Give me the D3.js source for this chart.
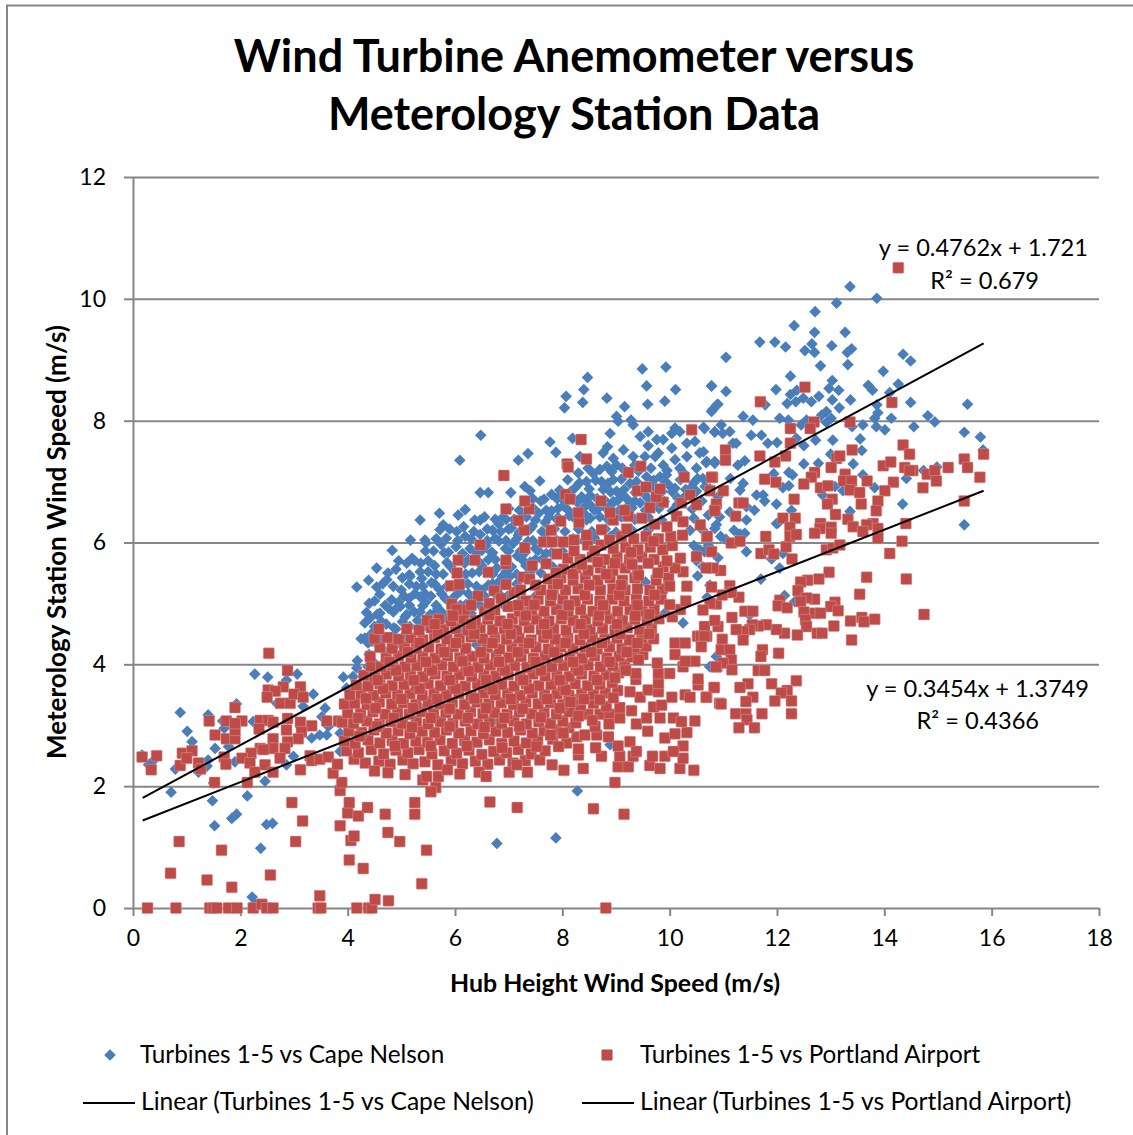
<!DOCTYPE html>
<html>
<head>
<meta charset="utf-8">
<title>Wind Turbine Anemometer versus Meterology Station Data</title>
<script src="https://cdnjs.cloudflare.com/ajax/libs/d3/7.8.5/d3.min.js"></script>
<style>
  html, body { margin: 0; padding: 0; background: #fff; }
  svg { display: block; }
  text { font-family: Lato, "Open Sans", sans-serif; fill: #000; }
</style>
</head>
<body>
<div id="chart"></div>
<script>
// Values: [hub height speed, station speed]

const capeLeft = [[.17,2.51],[.39,2.43],[.29,2.35],[.79,2.28],[.88,3.21],[1.01,2.9],[1.1,2.73],[1.4,3.17],[1.22,2.23],[1.4,2.43],[1.38,2.33],[1.53,2.62],[1.67,3.07],[1.7,2.95],[1.78,2.65],[1.9,2.4],[1.93,3.35],[2.24,3.06],[2.27,3.84],[2.51,3.79],[2.68,3.36],[2.86,3.74],[3.06,3.84],[3.17,3.31],[3.36,3.51],[3.52,3.14],[3.58,3.28],[3.64,2.98],[3.33,2.79],[3.48,2.84],[3.61,2.84],[3.86,2.57],[3.86,2.87],[2.86,2.35],[2.99,2.49],[2.46,2.08],[1.5,2.05],[.71,1.9],[2.13,1.84],[1.48,1.76],[1.93,1.54],[1.84,1.47],[1.52,1.35],[2.49,1.37],[2.6,1.39],[2.38,.98],[2.22,.18],[2.27,.08],[8.28,1.92],[6.78,1.06],[7.88,1.15],[3.92,3.79],[4.17,3.94],[4.1,3.8],[3.98,3.61],[4.23,3.63],[4.38,3.96],[4.04,3.53],[4.18,4.06],[4.32,4.43],[4.38,4.35],[4.57,4.44],[4.66,4.24],[4.32,4.68],[4.42,4.76],[4.63,4.7],[4.76,4.92],[4.91,4.92],[5.07,4.78],[5,5.22],[5.35,5.11],[4.17,5.27],[4.39,5.38],[4.54,5.27],[4.54,5.58],[4.73,5.39],[5.16,5.44],[5.38,5.41],[4.83,5.87],[5.25,5.7],[5.17,6.04],[5.35,6.37],[5.44,6.04],[5.46,5.99],[5.71,6.48],[5.78,6.29],[5.72,6.21],[5.84,6.07]];

const capeCore = [[6.09,7.35],[6.48,7.76],[6.47,6.82],[6.62,6.82],[7.04,6.82],[7.18,7.35],[7.36,7.46],[7.3,6.92],[7.4,6.85],[7.58,7.01],[7.66,6.71],[7.77,7.65],[7.88,7.48],[7.8,6.79],[8.04,8.21],[8.07,8.4],[8.19,7.71],[8.24,6.9],[8.3,7.14],[8.33,7.41],[8.36,6.75],[8.38,8.3],[8.4,8.51],[8.47,8.71],[8.45,7],[8.48,7.22],[8.52,6.77],[8.55,6.59],[8.58,7.13],[8.73,7],[8.76,7.47],[8.76,6.87],[8.83,8.37],[8.83,7.25],[8.84,7.57],[8.89,7.79],[8.95,7.38],[8.95,7.03],[9.01,8.07],[9.01,7.27],[9.01,6.84],[9.04,7.99],[9.14,7.52],[9.16,8.23],[9.26,6.97],[9.28,8.01],[9.32,7.93],[9.32,7.41],[9.35,7.27],[9.45,7.74],[9.45,6.65],[9.49,8.85],[9.54,7.41],[9.57,8.57],[9.57,7.08],[9.59,8.27],[9.6,7.82],[9.6,7.59],[9.73,7.41],[9.76,7.69],[9.79,7.47],[9.82,7.08],[9.88,7.69],[9.88,7.27],[9.91,8.32],[9.93,8.88],[9.94,7.11],[10.04,7.79],[10.04,7.55],[10.1,7.88],[10.1,7.36],[10.1,6.89],[10.11,8.51],[10.19,7.82],[10.19,7.22],[10.32,7.63],[10.32,7.41],[10.47,7.66],[10.56,7.47],[10.63,7.89],[10.69,7.33],[10.78,8.57],[10.8,8.18],[10.84,7.81],[10.84,7.3],[10.88,8.26],
[6.06,6.45],[6.19,6.54],[6.37,6.37],[6.47,6.37],[6.16,6.26],[6.03,6.18],[6.19,6.1],[6.47,6.13],[6.7,6.2],
[6.82,6.3],[6.95,6.38],[7.05,6.24],[7.18,6.12],[7.33,6.42],[7.44,6.27],[7.56,6.48],[7.68,6.33],[7.8,6.52],[7.92,6.41],[8.02,6.6],[8.13,6.44],[8.28,6.66],[8.4,6.48],[8.52,6.4],[8.66,6.55],[8.78,6.7],[8.91,6.62],[9.03,6.69],[9.12,6.78],[9.25,6.62],[9.36,6.82],[9.52,6.8],[9.64,6.92],[9.74,6.68],[9.86,6.84],[9.98,6.95],[10.14,6.62],[10.28,6.75],[10.4,6.9],[10.52,7.05],[10.66,6.92],
[5.6,5.86],[5.74,5.97],[5.88,5.84],[6.02,5.93],[6.14,5.82],[6.28,5.9],[6.4,5.83],[6.58,5.95],[6.68,5.84],[6.82,6.02],[6.94,5.9],[7.08,5.98],[7.22,5.86],[7.36,6.02],[7.5,5.9],[7.7,5.82],[8.58,6.1],[8.9,6.1],[9.3,6.2],[9.6,6.2],[10.45,6.4],[10.62,6.2],[10.72,6.45],[10.9,6.75],
[5.2,5.74],[5.36,5.66],[5.5,5.52],[5.62,5.62],[5.78,5.48],[5.92,5.6],[6.18,5.66],[6.32,5.5],[6.5,5.62],[6.62,5.72],[6.78,5.58],[6.88,5.44],[7.05,5.6],[7.16,5.78],[7.32,5.62],[7.5,5.72],[7.6,5.5],[7.82,5.6],
[4.9,5.56],[5.02,5.42],[5.28,5.28],[5.44,5.16],[5.56,5.34],[5.7,5.24],[5.82,5.08],[6.1,5.2],[6.24,5.32],[6.34,5.06],[6.5,5.22],[6.62,5.3],[6.8,5.34],[6.86,5.12],[7.02,5.44],[7.2,5.02],[7.5,5.12],
[4.82,5.06],[4.98,4.95],[5.14,5.08],[5.24,4.86],[5.4,4.96],[5.54,4.82],[5.68,4.92],[5.82,4.76],[5.96,4.7],[6.2,4.98],[6.3,4.84],[6.5,4.94],[6.68,4.88],[6.84,4.72],[6.92,4.96],
[4.5,5.04],[4.6,4.84],[4.72,4.66],[4.86,4.6],[5.02,4.7],[5.16,4.62],[5.3,4.72],[5.45,4.64],[4.44,4.5],[4.58,4.3],[4.76,4.42],[4.92,4.34],[5.05,4.44],[4.4,4.16],[4.5,4.02],[4.64,3.94],[4.72,4.12],
[10.62,5.6],[10.75,5.3],[10.52,5.45],[10.9,5.75],[11.05,6.05],[10.45,5.95],[10.56,5.88],[10.65,5.85],[10.84,6.23],[9.9,5.9],[9.55,5.35],[9.92,4.85],[10.25,4.68],[10.75,3.96],[8.89,2.68],[6.8,3.06],[8.24,3.31],[5.32,3.32],[5.18,3.86],[6.4,4.32],[6.12,4.55],[7.32,4.86],[7.06,4.68],[8.55,5.3],[7.98,4.98]];

const capeDense = [[8.7,7.2],[8.92,7.16],[9.12,7.22],[9.42,7.17],[9.65,7.22],[9.95,7.18],[10.25,7.15],[10.5,7.22],
[8.1,7.03],[8.32,6.98],[8.62,7.02],[8.85,6.97],[9.1,7.04],[9.38,7],[9.7,7.02],[9.92,6.98],[10.2,7.03],[10.45,6.98],[10.62,7.05],
[7.95,6.86],[8.15,6.83],[8.5,6.88],[8.9,6.83],[9.15,6.87],[9.5,6.84],[9.75,6.88],[10.05,6.83],[10.3,6.87],[10.5,6.84],[10.75,6.88],
[7.45,6.72],[7.6,6.68],[7.9,6.72],[8.05,6.67],[8.2,6.73],[8.45,6.68],[8.65,6.72],[8.95,6.67],[9.2,6.72],[9.35,6.68],[9.6,6.72],[9.9,6.67],[10.15,6.73],
[7,6.56],[7.2,6.53],[7.45,6.57],[7.7,6.53],[7.92,6.56],[8.12,6.52],[8.4,6.57],[8.6,6.53],[8.82,6.56],[9.05,6.52],[9.3,6.57],[9.55,6.53],[9.8,6.56],[10.05,6.52],
[6.55,6.42],[6.75,6.38],[6.9,6.42],[7.1,6.38],[7.25,6.42],[7.5,6.37],[7.75,6.42],[7.9,6.38],[8.2,6.42],[8.45,6.37],[8.7,6.42],[8.85,6.38],[9.1,6.42],[9.35,6.38],[9.6,6.42],[9.85,6.37],
[5.9,6.22],[6.35,6.18],[6.6,6.22],[6.85,6.18],[7,6.22],[7.2,6.17],[7.4,6.22],[7.62,6.18],[7.85,6.22],[8.05,6.18],[8.3,6.22],[8.55,6.18],[8.8,6.22],[9,6.17],
[5.65,6.06],[6.05,6.03],[6.3,6.06],[6.6,6.03],[6.75,6.07],[6.95,6.03],[7.15,6.06],[7.45,6.03],[7.7,6.07],[7.9,6.03],[8.2,6.06],[8.4,6.03],[8.6,6.07],
[5.45,5.86],[5.8,5.83],[6.5,5.87],[6.7,5.83],[7,5.86],[7.3,5.83],[7.55,5.87],[7.8,5.83],[8,5.86],
[4.95,5.7],[5.1,5.66],[5.5,5.7],[5.85,5.67],[6.25,5.72],[6.45,5.68],[6.75,5.72],[6.95,5.68],[7.25,5.72],[7.4,5.68],[7.62,5.72],
[4.75,5.5],[5.15,5.47],[5.35,5.52],[5.65,5.48],[6,5.52],[6.2,5.48],[6.45,5.52],[6.7,5.48],[6.95,5.52],[7.15,5.48],[7.4,5.52],
[4.65,5.32],[4.85,5.28],[5.15,5.32],[5.4,5.28],[5.62,5.32],[5.85,5.28],[6.15,5.32],[6.4,5.28],[6.7,5.32],[6.85,5.28],[7.15,5.32],
[4.6,5.15],[5.05,5.12],[5.25,5.16],[5.55,5.12],[5.75,5.16],[6,5.12],[6.25,5.16],[6.55,5.12],[6.75,5.16],[6.98,5.12],
[4.4,5],[4.7,4.97],[4.95,5.02],[5.15,4.97],[5.45,5.02],[5.65,4.97],[5.9,5.02],[6.1,4.97],[6.4,5.02],[6.6,4.97],
[4.35,4.85],[4.55,4.82],[4.85,4.86],[5.1,4.82],[5.35,4.86],[5.6,4.82],[5.75,4.86],[6,4.82],
[4.5,4.62],[4.9,4.58],[5.4,4.62],[5.7,4.58],[4.25,4.42],[4.45,4.38],[4.65,4.42],[4.85,4.45],
[10.42,6.55],[10.6,6.68],[10.5,5.7],[10.38,6.2],[10.72,5.95],[10.95,6.1],[11.12,6.5],[11.2,6.2],[10.7,5.1]];

const capeRight = [[13.36,10.2],[13.86,10.01],[13.11,9.93],[12.71,9.79],[12.32,9.56],[12.7,9.45],[13.27,9.45],[11.68,9.29],[11.96,9.29],[12.16,9.21],[12.65,9.26],[13.02,9.23],[12.52,9.15],[12.7,9.12],[13.39,9.18],[13.31,9.12],[11.05,9.04],[14.35,9.09],[14.49,8.98],[12.81,8.9],[13.32,8.92],[13.98,8.81],[12.25,8.73],[13.03,8.66],[10.78,8.57],[11.05,8.48],[11.98,8.51],[12.37,8.5],[12.97,8.53],[13.15,8.5],[13.7,8.58],[13.78,8.5],[14.26,8.6],[14.1,8.46],[12.25,8.43],[12.78,8.4],[12.49,8.37],[13.03,8.34],[13.37,8.34],[12.19,8.28],[12.35,8.31],[12.64,8.31],[11.78,8.26],[10.9,8.27],[10.78,8.15],[13.86,8.26],[14.49,8.3],[15.55,8.27],[13.16,8.21],[12.92,8.15],[12.83,8.09],[13.88,8.13],[13.82,8.04],[11.37,8.07],[11.55,8.01],[12.05,8.04],[12.21,8.01],[13.01,8.04],[12.92,7.97],[14.81,8.08],[14.94,7.98],[14.13,8.04],[10.65,7.87],[10.96,7.93],[11.12,7.82],[10.84,7.82],[10.99,7.79],[12.45,7.93],[12.55,8.01],[13.6,7.93],[13.4,7.9],[13.85,7.9],[14.01,7.85],[14.55,7.9],[15.49,7.81],[15.79,7.73],[15.84,7.52],[11.52,7.76],[11.71,7.76],[11.83,7.63],[12,7.64],[12.36,7.71],[12.72,7.68],[12.5,7.59],[13.04,7.68],[13.55,7.7],[13.58,7.51],[11.18,7.63],[11.24,7.63],[10.63,7.49],[10.68,7.31],[10.84,7.33],[11.4,7.34],[11.27,7.27],[13,7.45],[12.5,7.29],[12.77,7.3],[13.42,7.29],[11.94,7.13],[12.22,7.15],[12.29,7.11],[13.6,7.11],[14.41,7.05],[14.98,7.24],[14.73,7.18],[11.13,7.05],[11.37,6.97],[11.31,6.86],[12.22,6.93],[12.11,6.9],[13.82,6.9],[13.08,6.92],[12.85,6.78],[13.23,6.85],[11.74,6.78],[11.62,6.78],[11.77,6.68],[11.99,6.63],[11.58,6.53],[11.43,6.59],[12.27,6.53],[13.36,6.51],[14.34,6.63],[10.93,6.42],[11.43,6.37],[11.99,6.31],[10.87,6.29],[15.49,6.29],[12.05,5.58],[11.9,5.73],[12.11,5.82],[11.43,5.85],[11.7,5.4],[12.14,5.13],[12.33,5.03],[11.49,4.81],[11.4,6.15],[11.31,6.14],[10.87,4.13],[10.75,3.96],[12.02,6.32]];

const portlandLow = [[.27,0],[.8,0],[1.43,0],[1.5,0],[1.56,0],[1.78,0],[1.94,0],[2.24,0],[2.4,.06],[2.49,0],[2.61,0],[3.45,0],[3.5,0],[4.17,0],[4.39,0],[4.45,0],[8.81,0],[4.51,.14],[4.76,.12],[3.48,.2],[5.38,.4],[1.84,.34],[1.38,.46],[.7,.57],[2.56,.54],[4.29,.65],[4.03,.79],[5.47,.95],[1.65,.95],[.86,1.09],[3.03,1.09],[4.97,1.09],[4.06,1.11],[4.12,1.18],[4.75,1.24],[3.86,1.35],[3.16,1.43],[4.7,1.54],[5.25,1.54],[4,1.56],[4.2,1.51],[4.37,1.65],[4.03,1.73],[2.96,1.73],[5.25,1.73],[3.86,1.93],[3.89,2.06],[2.13,2.06],[1.52,2.06],[3.73,2.21],[6.65,1.74],[7.16,1.65],[8.58,1.63],[9.15,1.54],[8.98,2.06],[5.64,1.98],[5.55,1.91],[5.4,2.1],[5.47,2.16]];

const portlandLeft = [[.17,2.48],[.44,2.5],[.34,2.27],[.88,2.34],[.92,2.54],[1.1,2.58],[1,2.46],[1.22,2.38],[1.26,2.28],[1.7,2.48],[1.73,2.36],[1.42,3.07],[1.74,3.07],[2.03,3.07],[1.9,3.29],[1.53,2.84],[1.74,2.78],[1.9,2.78],[1.9,2.92],[1.9,3.03],[2.53,4.18],[2.88,3.9],[3.12,3.63],[2.8,3.63],[2.52,3.58],[2.65,3.56],[2.5,3.46],[2.75,3.36],[2.93,3.36],[3,3.51],[3.17,3.46],[2.37,3.08],[2.52,3.08],[2.61,3.05],[2.35,2.94],[2.88,3.11],[2.86,2.92],[3.12,3.05],[3.33,2.99],[3.61,3.07],[3.83,3.07],[3.14,2.89],[3.08,2.78],[2.61,2.78],[2.88,2.73],[2.37,2.62],[2.61,2.62],[2.83,2.62],[2.2,2.54],[2.43,2.6],[2.03,2.46],[2.18,2.38],[2.46,2.35],[2.74,2.46],[2.27,2.23],[2.61,2.23],[3.12,2.27],[3.3,2.5],[3.33,2.42],[3.48,2.44],[3.64,2.48],[3.81,2.36]];

const portlandCore = [[4.12,2.44],[4.33,2.38],[4.58,2.41],[4.79,2.36],[5.03,2.43],[5.22,2.37],[5.44,2.4],[5.68,2.35],[5.93,2.42],[6.14,2.37],[6.38,2.41],[6.61,2.36],[6.83,2.43],[7.08,2.38],[7.31,2.42],
[5.07,2.19],[5.69,2.16],[5.86,2.27],[6.09,2.2],[6.45,2.23],[6.58,2.16],[7.01,2.23],[7.35,2.23],[7.81,2.35],[8.03,2.26],[8.39,2.29],[9.04,2.32],[9.23,2.32],[9.63,2.34],[9.82,2.29],[10.19,2.29],[10.45,2.26],[4.5,2.25],[4.75,2.22],
[3.98,2.58],[4.2,2.55],[4.44,2.6],[4.67,2.53],[4.9,2.59],[5.12,2.55],[5.33,2.6],[5.57,2.53],[5.8,2.58],[6.03,2.54],[6.26,2.59],[6.5,2.52],[6.72,2.57],[6.96,2.55],[7.18,2.6],[7.42,2.53],[7.58,2.43],[7.15,2.35],[7.68,2.58],[8.73,2.49],[8.3,2.51],[9.07,2.49],[9.32,2.49],[9.68,2.49],[9.91,2.49],[10.25,2.46],
[3.94,2.74],[4.14,2.7],[4.38,2.76],[4.6,2.71],[4.83,2.75],[5.04,2.7],[5.27,2.74],[5.49,2.72],[5.72,2.76],[5.95,2.7],[6.18,2.75],[6.41,2.72],[6.64,2.76],[6.87,2.7],[7.1,2.74],[7.33,2.71],[7.54,2.76],[7.82,2.77],[8.08,2.71],[7.93,2.65],[8.27,2.81],[8.42,2.84],[8.64,2.84],[8.3,2.61],[8.62,2.63],[8.86,2.81],[9.04,2.66],[9.26,2.73],[9.38,2.57],[9.91,2.79],[10.1,2.86],[10.25,2.66],[10.07,2.57],[10.32,2.88],
[4.02,2.9],[4.26,2.88],[4.49,2.92],[4.72,2.87],[4.94,2.91],[5.16,2.86],[5.39,2.9],[5.62,2.88],[5.84,2.92],[6.07,2.87],[6.3,2.91],[6.53,2.86],[6.76,2.9],[6.98,2.88],[7.22,2.92],[7.44,2.87],[7.66,2.91],[7.9,2.93],[8.12,2.96],[8.61,2.98],[9.59,2.9],
[3.9,3.05],[4.11,3.03],[4.36,3.07],[4.59,3.02],[4.81,3.06],[5.02,3.03],[5.28,3.07],[5.5,3.02],[5.73,3.06],[5.96,3.03],[6.19,3.07],[6.42,3.02],[6.64,3.06],[6.87,3.03],[7.1,3.07],[7.33,3.02],[7.56,3.06],[7.78,3.03],[8.01,3.07],[8.25,3.04],[8.48,3.18],[8.7,3.18],[8.88,3.18],[8.87,3.02],[9.38,3.02],[9.07,3.12],[9.57,3.12],[9.82,3.12],[10.07,3.12],[10.22,3.06],[10.47,3.07],
[4,3.2],[4.24,3.19],[4.47,3.22],[4.7,3.18],[4.93,3.21],[5.15,3.18],[5.38,3.22],[5.6,3.19],[5.83,3.21],[6.06,3.18],[6.29,3.22],[6.52,3.19],[6.74,3.21],[6.97,3.18],[7.2,3.22],[7.43,3.19],[7.66,3.21],[7.89,3.18],[8.13,3.22],[8.34,3.32],[8.58,3.36],[8.82,3.31],[9.07,3.29],[9.29,3.24],[9.7,3.3],[9.85,3.33],
[3.94,3.35],[4.13,3.36],[4.36,3.34],[4.59,3.38],[4.82,3.35],[5.04,3.37],[5.27,3.34],[5.5,3.38],[5.72,3.35],[5.95,3.37],[6.18,3.34],[6.41,3.38],[6.63,3.35],[6.86,3.37],[7.09,3.34],[7.32,3.38],[7.55,3.35],[7.78,3.37],[8.01,3.34],[8.22,3.42],[9.45,3.46],[10.04,3.46],[10.29,3.5],[10.38,3.46],[10.69,3.46],[10.93,3.36],
[4.04,3.5],[4.25,3.52],[4.48,3.49],[4.71,3.53],[4.93,3.5],[5.16,3.52],[5.39,3.49],[5.61,3.53],[5.84,3.5],[6.07,3.52],[6.3,3.49],[6.53,3.53],[6.75,3.5],[6.98,3.52],[7.21,3.49],[7.44,3.53],[7.67,3.5],[7.9,3.52],[8.12,3.49],[8.36,3.52],[8.58,3.5],[8.8,3.53],[9.03,3.57],[9.26,3.55],[9.6,3.58],[9.79,3.55],[10.53,3.66],[10.83,3.62],
[4.16,3.66],[4.38,3.64],[4.6,3.68],[4.83,3.65],[5.05,3.67],[5.28,3.64],[5.5,3.68],[5.73,3.65],[5.96,3.67],[6.19,3.64],[6.42,3.68],[6.64,3.65],[6.87,3.67],[7.1,3.64],[7.33,3.68],[7.56,3.65],[7.79,3.67],[8.01,3.64],[8.24,3.68],[8.47,3.65],[8.7,3.67],[8.93,3.7],[9.37,3.75],[9.79,3.69],[10.53,3.76],
[4.3,3.82],[4.5,3.8],[4.72,3.84],[4.95,3.81],[5.17,3.83],[5.4,3.8],[5.63,3.84],[5.85,3.81],[6.08,3.83],[6.31,3.8],[6.54,3.84],[6.76,3.81],[6.99,3.83],[7.22,3.8],[7.45,3.84],[7.68,3.81],[7.9,3.83],[8.13,3.8],[8.36,3.84],[8.59,3.81],[8.82,3.83],[9.05,3.86],[9.37,3.85],[9.79,3.85],[10,3.85],
[4.44,3.97],[4.62,3.96],[4.84,3.99],[5.07,3.96],[5.29,3.98],[5.52,3.95],[5.75,3.99],[5.97,3.96],[6.2,3.98],[6.43,3.95],[6.66,3.99],[6.88,3.96],[7.11,3.98],[7.34,3.95],[7.57,3.99],[7.8,3.96],[8.02,3.98],[8.25,3.95],[8.48,3.99],[8.71,3.96],[8.94,3.98],[9.16,4],[9.77,4.02],[10.25,3.96],[10.47,4.05],[10.88,3.96],
[4.42,4.13],[4.72,4.11],[4.95,4.14],[5.18,4.11],[5.4,4.13],[5.63,4.1],[5.86,4.14],[6.09,4.11],[6.32,4.13],[6.54,4.1],[6.77,4.14],[7,4.11],[7.23,4.13],[7.46,4.1],[7.68,4.14],[7.91,4.11],[8.14,4.13],[8.37,4.1],[8.6,4.14],[8.83,4.11],[9.06,4.13],[9.3,4.12],[9.5,4.16],[10.1,4.16],[10.29,4.05],
[4.6,4.28],[4.83,4.26],[5.06,4.29],[5.28,4.26],[5.51,4.28],[5.74,4.25],[5.97,4.29],[6.2,4.26],[6.6,4.28],[6.83,4.25],[7.06,4.29],[7.28,4.26],[7.51,4.28],[7.74,4.25],[7.97,4.29],[8.2,4.26],[8.42,4.28],[8.65,4.25],[8.88,4.29],[9.11,4.26],[9.34,4.28],[9.56,4.3],[10.1,4.35],[10.29,4.35],
[4.5,4.42],[4.74,4.44],[4.95,4.41],[5.18,4.43],[5.4,4.4],[5.62,4.44],[5.85,4.41],[6.08,4.43],[6.3,4.45],[6.52,4.42],[6.74,4.44],[6.96,4.41],[7.19,4.43],[7.42,4.4],[7.65,4.44],[7.87,4.41],[8.1,4.43],[8.33,4.4],[8.56,4.44],[8.79,4.41],[9.02,4.43],[9.25,4.4],[9.48,4.44],[9.7,4.42],[10.52,4.46],[10.69,4.46],
[4.58,4.58],[5.1,4.58],[5.33,4.56],[5.56,4.6],[5.79,4.57],[6.01,4.59],[6.24,4.56],[6.47,4.6],[6.7,4.57],[6.92,4.59],[7.15,4.56],[7.38,4.6],[7.61,4.57],[7.84,4.59],[8.07,4.56],[8.3,4.6],[8.52,4.57],[8.75,4.59],[8.98,4.56],[9.21,4.6],[9.44,4.57],[9.66,4.59],[10.65,4.62],[10.58,4.46],
[5.48,4.72],[5.7,4.74],[5.93,4.71],[6.16,4.75],[6.38,4.72],[6.61,4.74],[6.84,4.71],[7.07,4.75],[7.29,4.72],[7.52,4.74],[7.75,4.71],[7.98,4.75],[8.2,4.72],[8.43,4.74],[8.66,4.71],[8.89,4.75],[9.12,4.72],[9.35,4.74],[9.58,4.71],[9.8,4.75],[10.05,4.78],
[5.95,4.87],[6.18,4.9],[6.55,4.87],[6.74,4.89],[6.99,4.95],[7.2,4.87],[7.43,4.9],[7.66,4.87],[7.89,4.9],[8.11,4.87],[8.34,4.9],[8.57,4.87],[8.8,4.9],[9.03,4.87],[9.26,4.9],[9.49,4.87],[9.71,4.9],[10.2,4.9],
[5.94,4.99],[6.03,4.9],[6.43,5.12],[6.73,5.21],[7.1,5.18],[7.32,5.04],[7.55,5.07],[7.78,5.04],[8.01,5.07],[8.24,5.04],[8.47,5.07],[8.7,5.04],[8.93,5.07],[9.15,5.04],[9.38,5.07],[9.61,5.04],[9.84,5.07],[10.3,5.04],
[5.92,5.29],[6.08,5.31],[6.95,5.31],[7.27,5.43],[7.39,5.4],[7.6,5.22],[7.83,5.24],[8.06,5.22],[8.29,5.24],[8.71,5.22],[8.94,5.24],[9.17,5.22],[9.4,5.24],[9.63,5.22],[9.86,5.24],[10.32,5.28],
[6.04,5.5],[6.62,5.51],[6.95,5.65],[6.95,5.71],[7.44,5.62],[7.7,5.65],[7.74,5.4],[7.97,5.42],[8.2,5.38],[8.43,5.42],[8.66,5.38],[8.89,5.42],[9.12,5.38],[9.35,5.42],[9.75,5.38],[9.98,5.42],[10.25,5.52],
[6.06,5.71],[6.37,5.71],[7.9,5.81],[8.02,5.56],[8.25,5.58],[8.48,5.54],[8.71,5.58],[8.94,5.54],[9.17,5.58],[9.4,5.54],[9.88,5.6],[10.1,5.58],[10.5,5.77],
[6.47,5.96],[7.3,5.91],[8.1,5.74],[8.33,5.72],[8.56,5.76],[8.79,5.72],[9.02,5.76],[9.25,5.72],[9.48,5.76],[9.71,5.72],[10.2,5.74],
[7.65,6.01],[7.81,6.01],[8.02,6.01],[8.22,6.04],[8.47,5.96],[8.72,5.96],[8.95,5.9],[9.18,5.92],[9.41,5.88],[9.64,5.92],[9.87,5.88],[10.05,5.95],
[7.29,6.2],[7.79,6.2],[8.73,6.21],[9.1,6.1],[9.33,6.06],[9.56,6.1],[9.79,6.06],[10.02,6.1],[10.24,6.12],
[7.18,6.36],[7.97,6.35],[8.31,6.33],[8.95,6.37],[9.23,6.43],[9.48,6.4],[9.72,6.3],[9.95,6.26],[10.13,6.43],[10.25,6.34],[10.57,6.29],[10.69,6.1],
[6.95,6.55],[7.38,6.55],[8.3,6.49],[8.89,6.49],[9.16,6.53],[9.63,6.57],[9.88,6.66],[10.22,6.65],[10.5,6.62],[10.84,6.53],
[7.3,6.68],[8.06,6.79],[8.14,6.71],[8.72,6.68],[9.4,6.85],[9.56,6.91],[9.75,6.75],[9.82,6.88],[10.38,6.78],
[6.91,7.1],[8.09,7.29],[8.11,7.24],[8.35,7.69],[8.45,7.37],[9.23,7.15],[9.46,7.25],[10.27,7.07],[10.41,7.85],[10.8,7.07]];

// second pass over the solid part of the red cloud
const portlandDense = [[4.22,2.82],[4.55,2.98],[4.88,2.66],[5.2,2.97],[5.55,2.66],[5.9,2.98],[6.22,2.66],[6.55,2.97],[6.88,2.63],[7.2,2.98],[7.52,2.65],[7.78,2.84],[8.02,2.87],
[4.2,3.12],[4.52,3.28],[4.86,3.12],[5.22,3.28],[5.55,3.12],[5.9,3.27],[6.24,3.12],[6.58,3.28],[6.92,3.12],[7.26,3.27],[7.6,3.13],[7.95,3.28],[8.3,3.15],[8.56,3.08],[8.15,3.38],
[4.34,3.44],[4.66,3.6],[5,3.43],[5.34,3.6],[5.67,3.43],[6.01,3.6],[6.36,3.44],[6.7,3.59],[7.04,3.43],[7.38,3.6],[7.72,3.43],[8.06,3.58],[8.4,3.43],[8.7,3.42],[8.95,3.45],
[4.56,3.74],[4.9,3.9],[5.23,3.74],[5.57,3.9],[5.9,3.74],[6.25,3.89],[6.58,3.74],[6.93,3.9],[7.27,3.74],[7.6,3.9],[7.95,3.74],[8.3,3.9],[8.65,3.74],[8.98,3.78],[9.18,3.9],
[4.78,4.04],[5.12,4.2],[5.46,4.04],[5.8,4.2],[6.14,4.05],[6.48,4.2],[6.82,4.04],[7.17,4.2],[7.5,4.04],[7.85,4.2],[8.2,4.04],[8.54,4.2],[8.88,4.04],[9.2,4.2],[9.42,4.07],
[5.34,4.35],[5.68,4.5],[6.02,4.35],[6.36,4.5],[6.7,4.35],[7.04,4.5],[7.38,4.35],[7.72,4.5],[8.06,4.35],[8.4,4.5],[8.74,4.35],[9.08,4.5],[9.4,4.35],[9.62,4.5],
[5.62,4.66],[5.96,4.8],[6.3,4.66],[6.64,4.81],[6.98,4.66],[7.32,4.8],[7.66,4.66],[8,4.81],[8.34,4.66],[8.68,4.8],[9.02,4.66],[9.36,4.8],[9.62,4.82],
[6.3,4.97],[6.64,5],[6.86,5.08],[7.18,4.97],[7.48,4.98],[7.8,5.14],[8.12,4.97],[8.42,5.14],[8.76,4.97],[9.06,5.14],[9.4,4.97],[9.72,5.14],[10,4.98],
[7.22,5.22],[7.5,5.3],[7.92,5.32],[8.2,5.48],[8.5,5.3],[8.82,5.48],[9.1,5.3],[9.42,5.46],[9.78,5.5],[10,5.28],
[7.88,5.5],[8.36,5.64],[8.66,5.68],[8.98,5.66],[9.3,5.64],[9.6,5.66],[9.95,5.7],[8.22,5.86],[8.6,5.86],[8.88,6.04],[9.28,5.84],[9.7,6.02],[8.45,6.12],[9.2,6.22]];

const portlandRight = [[14.26,10.51],[12.52,8.55],[11.69,8.31],[14.14,8.3],[12.69,7.98],[13.36,7.98],[12.25,7.87],[12.62,7.87],[12.25,7.63],[11.04,7.52],[11.04,7.35],[14.35,7.6],[14.47,7.45],[13.4,7.52],[11.68,7.42],[12.16,7.42],[11.96,7.32],[13.11,7.38],[13.17,7.42],[13.01,7.23],[12.7,7.15],[12.64,7.07],[13.27,7.12],[13.98,7.26],[14.12,7.32],[14.38,7.23],[14.53,7.18],[14.47,7.18],[15.19,7.23],[15.49,7.37],[15.55,7.23],[15.85,7.45],[15.78,7.07],[14.8,7.12],[14.94,7.18],[14.97,7.01],[14.72,6.9],[14.17,6.99],[14.01,6.85],[13.68,7.01],[13.24,7.01],[13.39,7.01],[13.36,6.86],[13.54,6.82],[11.77,7.04],[11.98,6.99],[12.5,6.96],[12.81,6.9],[12.95,6.93],[10.78,7.07],[10.75,6.85],[11,6.85],[11.29,6.65],[11.37,6.65],[10.87,6.63],[10.84,6.52],[11.23,6.43],[12.32,6.71],[13.03,6.71],[12.94,6.63],[13.57,6.63],[13.88,6.68],[13.85,6.52],[15.49,6.68],[13.09,6.46],[12.11,6.4],[12.34,6.4],[13.32,6.38],[12.81,6.31],[14.4,6.31],[13.79,6.31],[13.67,6.29],[13.42,6.26],[13.01,6.25],[12.24,6.25],[13.88,6.23],[12.8,6.23],[14.33,6.02],[14.1,5.82],[14.41,5.4],[13.67,5.43],[12.97,5.51],[12.78,5.4],[12.57,5.38],[12.44,5.35],[12.39,5.21],[13.54,5.15],[12.7,5.07],[12.55,5.09],[12.44,5.03],[12.05,5.05],[12.02,4.96],[12.19,4.93],[13.08,5.02],[13,4.95],[13.14,4.88],[12.7,4.84],[12.81,4.84],[12.5,4.86],[12.53,4.73],[12.55,4.62],[14.74,4.82],[13.37,4.71],[13.58,4.77],[13.62,4.7],[13.82,4.74],[13.06,4.63],[12.75,4.51],[12.84,4.51],[12.38,4.48],[13.39,4.4],[12.14,4.51],[11.99,4.57],[11.8,4.65],[11.65,4.63],[11.54,4.65],[11.49,4.57],[11.37,4.54],[11.37,4.4],[11.24,4.57],[10.9,4.62],[10.84,4.72],[11.16,4.77],[11.4,4.87],[11.55,4.87],[10.87,4.99],[10.75,5],[10.62,4.89],[11.29,5.1],[11.12,5.29],[11.15,5.18],[10.98,5.14],[10.78,5.27],[10.95,5.54],[10.81,5.58],[10.68,5.58],[10.78,5.85],[11.7,5.82],[11.85,5.88],[11.94,5.81],[12.28,5.73],[12.17,5.93],[12.24,6.1],[12.36,6.13],[11.79,6.1],[11.15,5.99],[11.31,6.02],[10.7,6.1],[12.92,5.88],[13.04,5.91],[13.17,5.96],[13.01,6.15],[12.7,6.15],[13.6,6.18],[13.88,6.07],[10.65,4.46],[10.98,4.41],[10.96,4.24],[11.12,4.24],[10.59,4.29],[11.73,4.24],[11.7,4.13],[12.03,4.18],[11.15,4.07],[10.99,4.02],[10.86,3.96],[11.16,3.91],[11.65,3.9],[11.77,3.9],[12.36,3.73],[11.9,3.68],[11.46,3.68],[11.31,3.62],[10.83,3.62],[12.19,3.57],[12.08,3.53],[11.55,3.46],[10.68,3.46],[12.27,3.4],[11.96,3.4],[11.42,3.39],[10.96,3.35],[11.23,3.19],[11.42,3.19],[11.72,3.19],[12.27,3.19],[11.44,3.09],[11.29,2.96],[11.58,2.96]];

const xTicks = [0, 2, 4, 6, 8, 10, 12, 14, 16, 18];
const yTicks = [0, 2, 4, 6, 8, 10, 12];
const trendSlopes = [0.4762, 0.3454];
const trendIntercepts = [1.721, 1.3749];
const trendExtent = [0.18, 15.85];

const blue = "#4a7ebb", red = "#be4b48", gray = "#868686";

const width = 1133, height = 1135;
const svg = d3.select("#chart").append("svg").attr("width", width).attr("height", height);

// only the top and left of the chart border are in the shot
svg.append("path").attr("d", "M7,1135V5.5H1133").attr("fill", "none").attr("stroke", gray).attr("stroke-width", 2);

const x = d3.scaleLinear().domain([0, 18]).range([133, 1099]);
const y = d3.scaleLinear().domain([0, 12]).range([908, 177]);

//gridlines
svg.append("g").attr("transform", "translate(133,0)")
    .call(d3.axisLeft(y).tickValues(yTicks.slice(1)).tickSize(-966).tickFormat(""))
    .call(function(g) { g.select(".domain").remove(); })
    .selectAll("line").attr("stroke", gray).attr("stroke-width", 2);

//axes
const xAxis = svg.append("g").attr("transform", "translate(0,908)")
    .call(d3.axisBottom(x).tickValues(xTicks).tickSize(8).tickSizeOuter(0));
const yAxis = svg.append("g").attr("transform", "translate(133,0)")
    .call(d3.axisLeft(y).tickValues(yTicks).tickSize(9).tickSizeOuter(0));

[xAxis, yAxis].forEach(function(a) {
    a.selectAll("line").attr("stroke", gray).attr("stroke-width", 2);
    a.select(".domain").attr("stroke", gray).attr("stroke-width", 2);
    a.selectAll("text").attr("font-size", "23px").style("font-family", "Lato").attr("fill", "#000");
});
xAxis.selectAll("text").attr("y", 22);
yAxis.selectAll("text").attr("x", -27);

const diamond = d3.symbol().type(d3.symbolSquare).size(68);

function drawDiamond(sel, px, py) {
    sel.append("path").attr("d", diamond()).attr("fill", blue)
        .attr("transform", "translate(" + px + "," + py + ") rotate(45)");
}
function drawSquare(sel, px, py) {
    sel.append("rect").attr("x", px - 5.5).attr("y", py - 5.5).attr("width", 11).attr("height", 11)
        .attr("rx", 1).attr("fill", red).attr("stroke", "#d9a09e").attr("stroke-width", 0.5);
}

const capeNelson = capeLeft.concat(capeCore, capeDense, capeRight);
const portlandAirport = portlandLow.concat(portlandLeft, portlandCore, portlandDense, portlandRight);

svg.append("g").selectAll("path").data(capeNelson).enter().append("path")
    .attr("d", diamond()).attr("fill", blue)
    .attr("transform", function(d) { return "translate(" + x(d[0]) + "," + y(d[1]) + ") rotate(45)"; });

const squares = svg.append("g");
portlandAirport.forEach(function(d) { drawSquare(squares, x(d[0]), y(d[1])); });

//trendlines
trendSlopes.forEach(function(m, i) {
    svg.append("line")
        .attr("x1", x(trendExtent[0])).attr("y1", y(m * trendExtent[0] + trendIntercepts[i]))
        .attr("x2", x(trendExtent[1])).attr("y2", y(m * trendExtent[1] + trendIntercepts[i]))
        .attr("stroke", "#000").attr("stroke-width", 2);
});

function label(px, py, str, size, weight, anchor) {
    return svg.append("text").attr("x", px).attr("y", py).attr("font-size", size + "px")
        .attr("font-weight", weight || "normal").attr("text-anchor", anchor || "start").text(str);
}

label(574, 72, "Wind Turbine Anemometer versus", 45, "bold", "middle");
label(574, 130, "Meterology Station Data", 45, "bold", "middle");
label(615, 992, "Hub Height Wind Speed (m/s)", 24.9, "bold", "middle");
label(0, 0, "Meterology Station Wind Speed (m/s)", 26, "bold", "middle")
    .attr("transform", "translate(66,542) rotate(-90)");

label(1088, 256, "y = 0.4762x + 1.721", 23.6, "normal", "end");
label(1039, 289, "R\u00b2 = 0.679", 23.6, "normal", "end");
label(1089, 697, "y = 0.3454x + 1.3749", 23.6, "normal", "end");
label(1039, 729, "R\u00b2 = 0.4366", 23.6, "normal", "end");

//legend
const leg = svg.append("g");
drawDiamond(leg, 110, 1055);
drawSquare(leg, 607, 1055);
label(140, 1063, "Turbines 1-5 vs Cape Nelson", 24.3);
label(640, 1063, "Turbines 1-5 vs Portland Airport", 24.3);
leg.append("line").attr("x1", 83).attr("x2", 135).attr("y1", 1103).attr("y2", 1103).attr("stroke", "#000").attr("stroke-width", 2);
leg.append("line").attr("x1", 582).attr("x2", 634).attr("y1", 1103).attr("y2", 1103).attr("stroke", "#000").attr("stroke-width", 2);
label(141, 1110, "Linear (Turbines 1-5 vs Cape Nelson)", 24.6);
label(640, 1110, "Linear (Turbines 1-5 vs Portland Airport)", 24.7);
</script>
</body>
</html>
